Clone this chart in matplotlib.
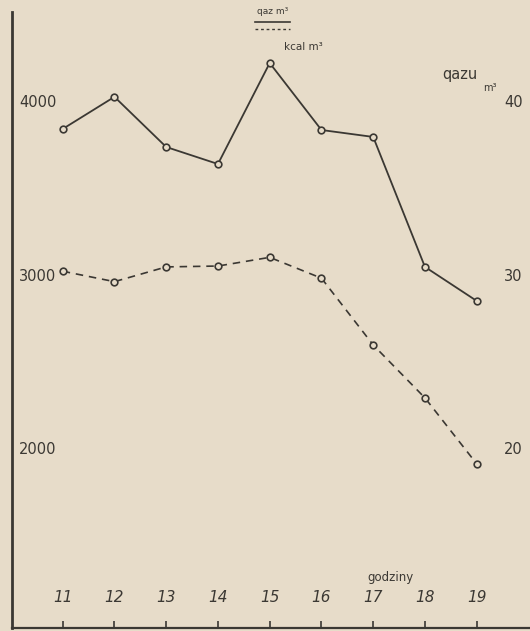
import matplotlib
matplotlib.use("Agg")
import matplotlib.pyplot as plt

hours = [11, 12, 13, 14, 15, 16, 17, 18, 19]
kcal_m3 = [3850, 4035, 3746, 3648, 4230, 3844, 3804, 3055, 2859]
gas_m3 = [30.3, 29.7, 30.55, 30.6, 31.1, 29.9, 26.05, 23.0, 19.2]
left_ticks = [2000, 3000, 4000]
right_ticks = [20, 30, 40]

BG = "#e7dcc9"
INK = "#3b3833"

W, H = 530, 631
fig = plt.figure(figsize=(W / 100, H / 100), dpi=100, facecolor=BG)
ax = fig.add_axes([12 / W, (H - 628) / H, (W - 12) / W, (628 - 12) / H])
ax.set_facecolor(BG)
ax.set_xlim(10.02, 20.03)
ax.set_ylim(974, 4524)
ax2 = ax.twinx()
ax2.set_ylim(9.74, 45.24)
ax2.axis("off")

for s in ["top", "right"]:
    ax.spines[s].set_visible(False)
ax.spines["left"].set_linewidth(2.0)
ax.spines["left"].set_color(INK)
ax.spines["bottom"].set_linewidth(1.6)
ax.spines["bottom"].set_color(INK)

ax.set_xticks(hours)
ax.set_xticklabels([])
ax.tick_params(axis="x", direction="in", length=5, width=1.2, color=INK)
ax.set_yticks([])

font = dict(family="DejaVu Sans", color=INK)

ax.plot(hours, kcal_m3, color=INK, lw=1.3, marker="o", ms=4.8,
        mfc=BG, mec=INK, mew=1.2, zorder=3)
ax2.plot(hours, gas_m3, color=INK, lw=1.2, ls=(0, (4.5, 3.5)), marker="o", ms=4.8,
         mfc=BG, mec=INK, mew=1.2, zorder=3)

for h in hours:
    ax.annotate(str(h), (h, 0), xycoords=("data", "axes fraction"),
                xytext=(0, 22), textcoords="offset points", ha="center", va="center",
                fontsize=11, style="italic", **font)

for v in left_ticks:
    ax.annotate(str(v), (0, v), xycoords=("axes fraction", "data"),
                xytext=(5, 0), textcoords="offset points", ha="left", va="center",
                fontsize=10.5, **font)
for v in right_ticks:
    ax2.annotate(str(v), (19.53, v), xycoords="data", ha="left", va="center",
                 fontsize=10.5, **font)

fig.text(390 / W, 1 - 577 / H, "godziny", ha="center", va="center", fontsize=8.5, **font)
fig.text(460 / W, 1 - 75 / H, "qazu", ha="center", va="center", fontsize=10.5, **font)
fig.text(490 / W, 1 - 88 / H, "m³", ha="center", va="center", fontsize=7, **font)

fig.text(273 / W, 1 - 12 / H, "qaz m³", ha="center", va="center", fontsize=6.5, **font)
fig.add_artist(plt.Line2D([255 / W, 290 / W], [1 - 22 / H, 1 - 22 / H], color=INK, lw=1.2))
fig.add_artist(plt.Line2D([255 / W, 290 / W], [1 - 29 / H, 1 - 29 / H], color=INK, lw=1.0,
                          ls=(0, (2, 2))))
fig.text(303 / W, 1 - 47 / H, "kcal m³", ha="center", va="center", fontsize=7.5, **font)

fig.savefig("out.png", dpi=100, facecolor=BG)
